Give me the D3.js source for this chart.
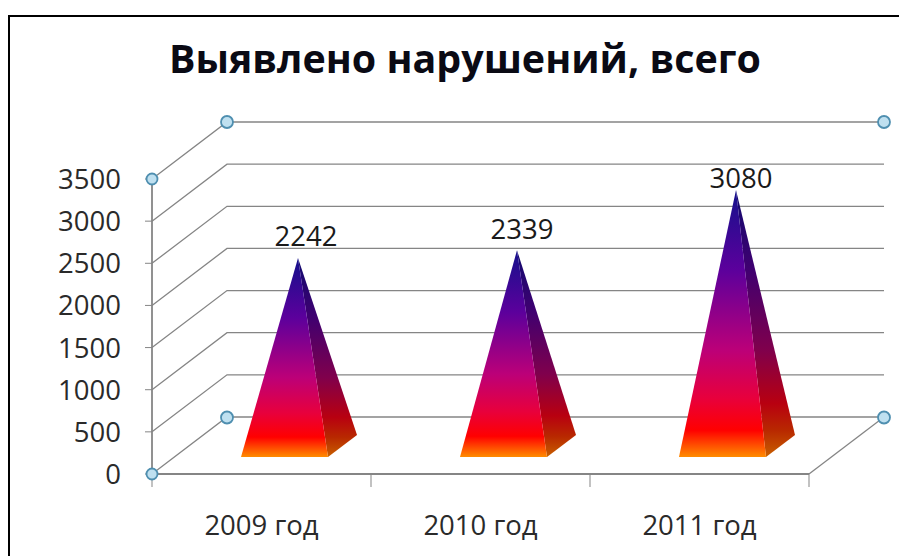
<!DOCTYPE html>
<html><head><meta charset="utf-8">
<style>html,body{margin:0;padding:0;background:#fff}svg{display:block}</style>
<script src="https://cdn.jsdelivr.net/npm/d3@7/dist/d3.min.js"></script>
</head><body><svg id="c" width="899" height="556"></svg>
<script>
const title = "Выявлено нарушений, всего";
const categories = ["2009 год","2010 год","2011 год"];
const values = [2242,2339,3080];
const yTicks = [0,500,1000,1500,2000,2500,3000,3500];
const font = "'Open Sans', sans-serif";
const svg = d3.select("#c");
const y = d3.scaleLinear().domain([0,3500]).range([474,179]);
const x = d3.scaleBand().domain(categories).range([152,809]);
const apexY = d3.scaleLinear().domain([0,3500]).range([440,156]);
const labelY = d3.scaleLinear().domain([0,3500]).range([401,159]);
const dx = 75, dy = -57;
const defs = svg.append("defs");
function grad(id,stops){
  const g = defs.append("linearGradient").attr("id",id).attr("x1",0).attr("x2",0).attr("y1",0).attr("y2",1);
  stops.forEach(s=>g.append("stop").attr("offset",s[0]).attr("stop-color",s[1]));
}
grad("front",[[0,"#14108c"],[0.3,"#5c009c"],[0.6,"#bc0078"],[0.78,"#e8003c"],[0.9,"#ff0000"],[1,"#ff8c00"]]);
grad("side",[[0,"#100a70"],[0.3,"#400070"],[0.6,"#80004c"],[0.8,"#b80010"],[0.9,"#b82800"],[1,"#c86000"]]);
const axisCol = "#858585";
svg.append("rect").attr("x",9).attr("y",16).attr("width",900).attr("height",600).attr("fill","#fff").attr("stroke","#000").attr("stroke-width",2);
svg.append("text").attr("x",465).attr("y",73).attr("text-anchor","middle").attr("font-family",font).attr("font-weight",700).attr("font-size",39.4).attr("fill","#0a0a14").text(title);
const grid = svg.append("g").attr("fill","none").attr("stroke",axisCol).attr("stroke-width",1.3);
yTicks.forEach(t=>{
  const p = d3.path();
  p.moveTo(152,y(t)); p.lineTo(152+dx,y(t)+dy);
  p.lineTo(809+dx,y(t)+dy);
  grid.append("path").attr("d",p);
});
grid.append("path").attr("d",`M809,474L${809+dx},${474+dy}`);
const ax = svg.append("g").attr("stroke",axisCol).attr("stroke-width",1.8);
ax.append("line").attr("x1",152).attr("x2",152).attr("y1",179).attr("y2",474);
ax.append("line").attr("x1",152).attr("x2",809).attr("y1",474).attr("y2",474);
yTicks.forEach(t=>ax.append("line").attr("x1",145).attr("x2",152).attr("y1",y(t)).attr("y2",y(t)).attr("stroke-width",1));
[152,...categories.map(c=>x(c)+x.bandwidth())].forEach(v=>ax.append("line").attr("x1",v).attr("x2",v).attr("y1",474).attr("y2",487).attr("stroke-width",1));
svg.append("g").selectAll("text").data(yTicks).join("text").attr("x",121).attr("y",d=>y(d)+10).attr("text-anchor","end").attr("font-family",font).attr("font-size",27.5).attr("fill","#2a2a2a").text(d=>d);
svg.append("g").selectAll("text").data(categories).join("text").attr("x",d=>x(d)+x.bandwidth()/2).attr("y",535).attr("text-anchor","middle").attr("font-family",font).attr("font-size",27.5).attr("fill","#2a2a2a").text(d=>d);
[[152,179],[227,122],[884,122],[152,474],[227,417.5],[884,417.5]].forEach(h=>{
  svg.append("circle").attr("cx",h[0]).attr("cy",h[1]).attr("r",h[0]===152?5.5:6).attr("fill","#bfe0f0").attr("stroke","#4f8fb0").attr("stroke-width",1.8);
});
const pyr = svg.append("g");
categories.forEach((c,i)=>{
  const l = x(c)+x.bandwidth()/2-20.5, r = l+87, by = 457, ax0 = l+57, ay = apexY(values[i]);
  pyr.append("path").attr("d",`M${r},${by}L${r+29},${by-22}L${ax0},${ay}Z`).attr("fill","url(#side)");
  pyr.append("path").attr("d",`M${l},${by}L${r},${by}L${ax0},${ay}Z`).attr("fill","url(#front)");
});
const labelDx=[8,5,5];
svg.append("g").selectAll("text").data(values).join("text").attr("x",(d,i)=>x(categories[i])+x.bandwidth()/2-20.5+57+labelDx[i]).attr("y",d=>labelY(d)).attr("text-anchor","middle").attr("font-family",font).attr("font-size",27.5).attr("fill","#1a1a1a").text(d=>d);
</script></body></html>
